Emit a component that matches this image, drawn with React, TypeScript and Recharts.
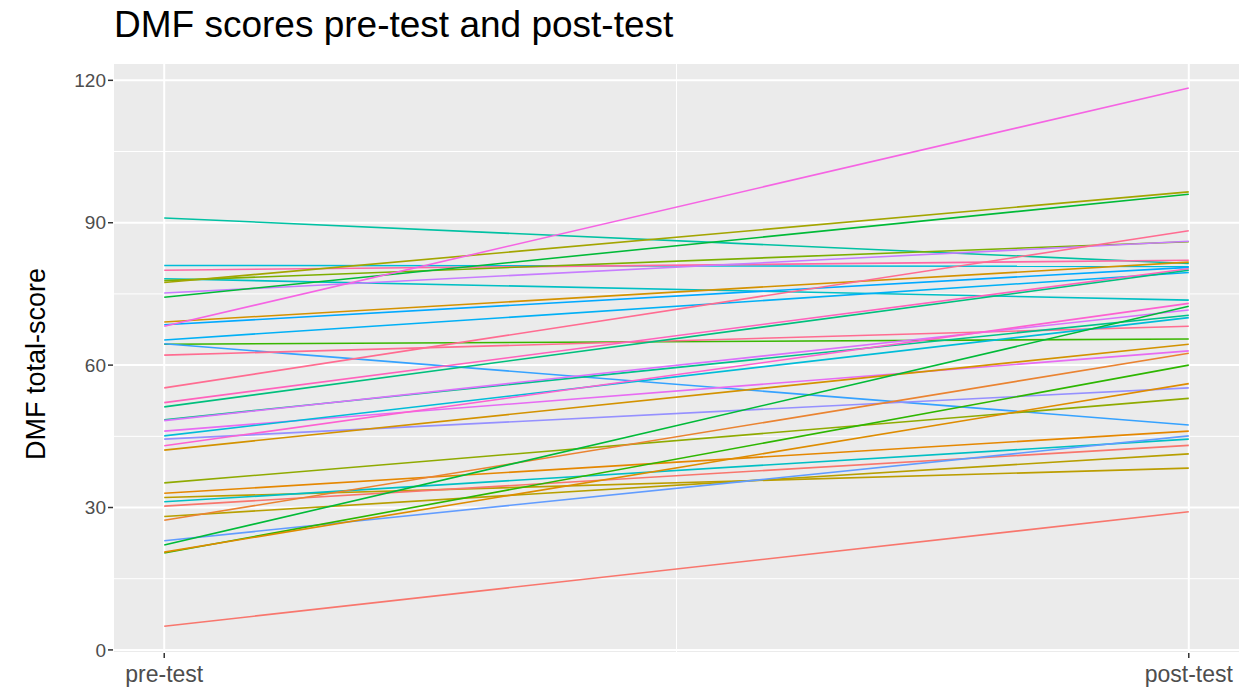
import { LineChart, Line, XAxis, YAxis, CartesianGrid, ReferenceLine } from 'recharts';

const timeLabels = ['pre-test', 'post-test'];
const timePoints = [0, 1];

const preScores = [
  91, 81, 80, 78.2, 77.8, 77.4, 75.2, 74.3, 69.1, 68.5, 68.2, 65.3, 64.4, 64.5, 62.1, 55.2, 52.1, 51.2, 48.5,
  48.3, 46.1, 45.1, 44.4, 43, 42.1, 35.2, 33, 32.1, 31.2, 30.3, 28.1, 27.3, 23, 22.1, 20.4, 20.6, 5,
];
const postScores = [
  81.4, 80.8, 82.1, 73.7, 86, 96.5, 86.1, 96, 81.7, 80.6, 118.4, 79.5, 65.5, 47.4, 68.2, 88.3, 80.3, 80, 70.5,
  71.6, 63, 70, 55.2, 73, 64.4, 53, 46.1, 38.3, 44.4, 43.1, 41.3, 62.5, 45.1, 72.4, 60, 56.1, 29.1,
];
const lineColors = [
  '#00C1A3', '#00BCD8', '#FF67A4', '#00BFC4', '#7CAE00', '#A3A500', '#C77CFF', '#00BA38', '#D39200', '#00A9FF',
  '#F564E3', '#00B0F6', '#39B600', '#35A2FF', '#FF6C91', '#FF6C91', '#FF62BC', '#00BF7D', '#00C08B', '#DB72FB',
  '#E76BF3', '#00BCD8', '#9590FF', '#FD61D1', '#D39200', '#8FAA00', '#E58700', '#BB9D00', '#00BFC4', '#F8766D',
  '#B79F00', '#EA8331', '#619CFF', '#00BA38', '#2DB600', '#DE8C00', '#F8766D',
];

const majorY = [0, 30, 60, 90, 120];
const minorY = [15, 45, 75, 105];
const minorX = [0.5];

const rows = timePoints.map((t, i) => {
  const row: Record<string, number> = { t };
  preScores.forEach((_, k) => {
    row['s' + k] = i === 0 ? preScores[k] : postScores[k];
  });
  return row;
});

const font = 'Liberation Sans, Arial, sans-serif';
const xTickStyle = { fill: '#4D4D4D', fontSize: 23, fontFamily: font, dy: 6 };
const yTickStyle = { fill: '#4D4D4D', fontSize: 19, fontFamily: font };

export default function App() {
  return (
    <div style={{ position: 'absolute', left: 0, top: 0, width: 1256, height: 694, background: '#fff' }}>
      <div
        style={{
          position: 'absolute',
          left: 114,
          top: 4,
          fontFamily: font,
          fontSize: 37,
          color: '#000',
          whiteSpace: 'nowrap',
        }}
      >
        DMF scores pre-test and post-test
      </div>
      <div
        style={{
          position: 'absolute',
          left: 36,
          top: 364,
          transform: 'translate(-50%, -50%) rotate(-90deg)',
          fontFamily: font,
          fontSize: 27,
          color: '#000',
          whiteSpace: 'nowrap',
        }}
      >
        DMF total-score
      </div>
      <LineChart width={1256} height={694} data={rows} margin={{ top: 63, right: 16, bottom: 0, left: 0 }}>
        <CartesianGrid fill="#EBEBEB" stroke="#FFFFFF" strokeWidth={2} />
        {minorY.map((v) => (
          <ReferenceLine key={'my' + v} y={v} stroke="#FFFFFF" strokeWidth={1} />
        ))}
        {minorX.map((v) => (
          <ReferenceLine key={'mx' + v} x={v} stroke="#FFFFFF" strokeWidth={1} />
        ))}
        <XAxis
          dataKey="t"
          type="number"
          domain={[-0.05, 1.05]}
          ticks={timePoints}
          tickFormatter={(v: number) => timeLabels[timePoints.indexOf(v)] ?? ''}
          axisLine={false}
          tickLine={{ stroke: '#333333', strokeWidth: 1.5 }}
          tickSize={5}
          tick={xTickStyle}
          height={41}
          interval={0}
          allowDataOverflow
        />
        <YAxis
          type="number"
          domain={[-0.65, 123.65]}
          ticks={majorY}
          axisLine={false}
          tickLine={{ stroke: '#333333', strokeWidth: 1.5 }}
          tickSize={5}
          tick={yTickStyle}
          width={113}
          interval={0}
          allowDataOverflow
        />
        {preScores.map((_, k) => (
          <Line
            key={k}
            dataKey={'s' + k}
            stroke={lineColors[k]}
            strokeWidth={1.6}
            dot={false}
            activeDot={false}
            isAnimationActive={false}
          />
        ))}
      </LineChart>
    </div>
  );
}
